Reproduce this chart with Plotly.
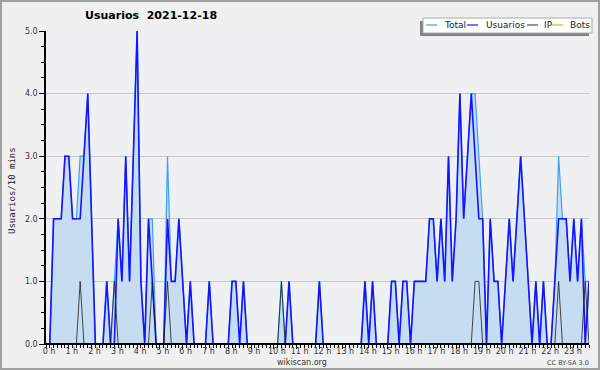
import numpy as np
import plotly.graph_objects as go

# 10-minute slots for 2021-12-18 (144 slots)
usuarios = [
    0, 0, 2, 2, 2, 3, 3, 2, 2, 2,
    3, 4, 2, 0, 0, 0, 1, 0, 0, 2,
    1, 3, 1, 3, 5, 1, 0, 2, 1, 0,
    0, 0, 2, 1, 1, 2, 1, 0, 1, 0,
    0, 0, 0, 1, 0, 0, 0, 0, 0, 1,
    1, 0, 1, 0, 0, 0, 0, 0, 0, 0,
    0, 0, 0, 0, 1, 0, 0, 0, 0, 0,
    0, 0, 1, 0, 0, 0, 0, 0, 0, 0,
    0, 0, 0, 0, 1, 0, 1, 0, 0, 0,
    0, 1, 1, 0, 1, 1, 0, 1, 1, 1,
    1, 2, 2, 1, 2, 1, 3, 1, 2, 4,
    2, 3, 4, 3, 2, 2, 0, 2, 1, 1,
    0, 1, 2, 1, 2, 3, 2, 1, 0, 1,
    0, 1, 0, 0, 1, 2, 2, 2, 1, 2,
    1, 2, 0, 1,
]
ip_slots = [9, 18, 28, 32, 62, 113, 114, 135, 142]
ip = [1 if i in ip_slots else 0 for i in range(144)]
bots = [0] * 144
total = [u + p + b for u, p, b in zip(usuarios, ip, bots)]
hours = list(np.arange(144) / 6.0)

hour_ticks = list(range(24))
hour_labels = [f"{h} h" for h in hour_ticks]
y_ticks = [0, 1, 2, 3, 4, 5]

# plot area in pixels
L, R, T, B = 46, 589, 31, 344
def px(X):
    return (X - L) / (R - L)
def py(Y):
    return (B - Y) / (B - T)

C_TOTAL = "rgb(60,160,250)"
C_USU = "rgb(20,20,255)"
C_IP = "rgba(30,30,30,0.8)"
C_BOTS = "rgb(255,165,0)"

fig = go.Figure()
fig.add_trace(go.Scatter(x=hours, y=total, mode="lines", name="Total",
                         line=dict(color=C_TOTAL, width=1.2),
                         fill="tozeroy", fillcolor="rgb(198,220,240)"))
fig.add_trace(go.Scatter(x=hours, y=usuarios, mode="lines", name="Usuarios",
                         line=dict(color=C_USU, width=1.6)))
fig.add_trace(go.Scatter(x=hours, y=ip, mode="lines", name="IP",
                         line=dict(color=C_IP, width=1)))
fig.add_trace(go.Scatter(x=hours, y=bots, mode="lines", name="Bots",
                         line=dict(color=C_BOTS, width=1)))

font = "DejaVu Sans"
shapes = [
    # outer border
    dict(type="rect", xref="paper", yref="paper", x0=px(1), x1=px(599), y0=py(1), y1=py(369),
         line=dict(color="rgb(160,160,160)", width=2), layer="below"),
    # baseline drawn over the zero values
    dict(type="line", xref="paper", yref="y", x0=0, x1=1, y0=0, y1=0,
         line=dict(color="black", width=2), layer="above"),
    # legend shadow and box
    dict(type="rect", xref="paper", yref="paper", x0=px(420), x1=px(589), y0=py(21), y1=py(36),
         fillcolor="rgb(130,130,130)", line=dict(width=0)),
    dict(type="rect", xref="paper", yref="paper", x0=px(423), x1=px(592), y0=py(18), y1=py(33),
         fillcolor="white", line=dict(color="rgb(170,170,170)", width=1)),
]
annotations = [
    dict(text="<b>Usuarios  2021-12-18</b>", x=px(151), y=py(16), xref="paper", yref="paper",
         showarrow=False, font=dict(family=font, size=11, color="black"), xanchor="center", yanchor="middle"),
    dict(text="Usuarios/10 mins", x=px(12), y=py(190), xref="paper", yref="paper", textangle=-90,
         showarrow=False, font=dict(family="DejaVu Sans Mono", size=9, color="#222"), xanchor="center", yanchor="middle"),
    dict(text="wikiscan.org", x=px(302), y=py(362), xref="paper", yref="paper",
         showarrow=False, font=dict(family=font, size=8, color="#333"), xanchor="center", yanchor="middle"),
    dict(text="CC BY-SA 3.0", x=px(591), y=py(363), xref="paper", yref="paper",
         showarrow=False, font=dict(family=font, size=6.5, color="#444"), xanchor="right", yanchor="middle"),
]
legend_items = [("Total", C_TOTAL, 426, 442), ("Usuarios", C_USU, 467, 484),
                ("IP", C_IP, 527, 542), ("Bots", C_BOTS, 552, 568)]
for name, col, lx, tx in legend_items:
    shapes.append(dict(type="line", xref="paper", yref="paper", x0=px(lx), x1=px(lx + 11),
                       y0=py(25), y1=py(25), line=dict(color=col, width=1.2)))
    annotations.append(dict(text=name, x=px(tx), y=py(25.5), xref="paper", yref="paper", showarrow=False,
                            font=dict(family=font, size=9, color="#222"), xanchor="left", yanchor="middle"))

fig.update_layout(
    width=600, height=370,
    margin=dict(l=L, r=600 - R, t=T, b=370 - B, autoexpand=False),
    paper_bgcolor="rgb(240,240,240)", plot_bgcolor="rgb(239,240,242)",
    showlegend=False, shapes=shapes, annotations=annotations,
    xaxis=dict(range=[0, 143 / 6.0], tickvals=hour_ticks, ticktext=hour_labels,
               ticks="outside", ticklen=4, tickcolor="black", tickwidth=1,
               minor=dict(dtick=1 / 6.0, tick0=0, ticks="outside", ticklen=3, tickcolor="black", showgrid=False),
               showline=True, linecolor="black", linewidth=1, showgrid=False, zeroline=False,
               tickfont=dict(family=font, size=8, color="#333"), ticklabelshift=3,
               ticklabelstandoff=-5),
    yaxis=dict(range=[0, 5], tickvals=y_ticks, tickformat=".1f",
               ticks="outside", ticklen=5, tickcolor="black",
               minor=dict(dtick=0.25, ticks="outside", ticklen=3, tickcolor="black", showgrid=False),
               showline=True, linecolor="black", linewidth=1.5, showgrid=True,
               gridcolor="rgb(200,200,200)", gridwidth=1, zeroline=False,
               tickfont=dict(family=font, size=8, color="#333")),
)
fig.write_html("out.html")
